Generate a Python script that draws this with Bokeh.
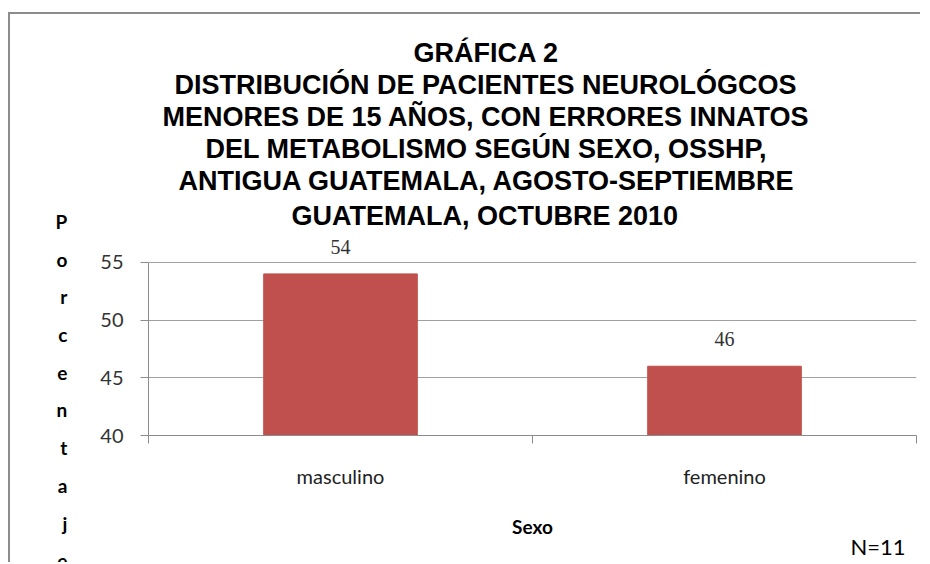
from bokeh.plotting import figure
from bokeh.models import (FactorRange, Range1d, LinearAxis, CategoricalAxis, CustomJSTickFormatter,
                          FixedTicker, LabelSet, ColumnDataSource, Title)
from bokeh.embed import file_html
from bokeh.resources import INLINE

# ---- data ----
categories = ["masculino", "femenino"]
percent = [54, 46]
y_ticks = [40, 45, 50, 55]
title_lines = [
    "GRÁFICA 2",
    "DISTRIBUCIÓN DE PACIENTES NEUROLÓGCOS",
    "MENORES DE 15 AÑOS, CON ERRORES INNATOS",
    "DEL METABOLISMO SEGÚN SEXO, OSSHP,",
    "ANTIGUA GUATEMALA, AGOSTO-SEPTIEMBRE",
    "GUATEMALA, OCTUBRE 2010",
]
# left offsets (px from the frame's left edge) that centre each title line at the chart box centre
title_offsets = [265, 26, 14, 57, 30, 143]
y_title = "Porcentaje"
x_title = "Sexo"
note = "N=11"

BAR = "#C0504D"
FONT = "Lato"
GRAY = "#8c8c8c"

src = ColumnDataSource(dict(cat=categories, val=percent, lbl=[str(v) for v in percent]))

p = figure(width=912, height=550, x_range=FactorRange(*categories), y_range=Range1d(40, 57.5),
           output_backend="svg", toolbar_location=None, x_axis_location=None,
           y_axis_location=None,
           min_border_left=138, min_border_right=6, min_border_top=219, min_border_bottom=129)
p.styles = {"border-top": "2px solid " + GRAY, "border-left": "2px solid " + GRAY}
p.margin = (12, 0, 0, 8)
p.outline_line_color = None
p.xgrid.grid_line_color = None
p.ygrid.grid_line_color = "#a0a0a0"
p.ygrid.ticker = FixedTicker(ticks=y_ticks)

p.vbar(x="cat", top="val", bottom=40, width=0.4, source=src, fill_color=BAR, line_color=BAR)

# y axis
ya = LinearAxis(ticker=FixedTicker(ticks=y_ticks), bounds=(y_ticks[0], y_ticks[-1]))
ya.axis_line_color = GRAY
ya.major_tick_line_color = GRAY
ya.major_tick_out = 8
ya.major_tick_in = 0
ya.minor_tick_line_color = None
ya.major_label_standoff = 17
ya.major_label_text_font = FONT
ya.major_label_text_font_size = "20px"
ya.major_label_text_color = "#333333"
ya.axis_label = "\n\n\n" + "\n".join(y_title)
ya.axis_label_orientation = "horizontal"
ya.axis_label_text_font = FONT
ya.axis_label_text_font_style = "bold"
ya.axis_label_text_font_size = "19px"
ya.axis_label_text_line_height = 1.64
ya.axis_label_text_color = "#000000"
ya.axis_label_standoff = 30
p.add_layout(ya, "left")

# boundary ticks on x (between categories)
xb = LinearAxis(ticker=FixedTicker(ticks=list(range(len(categories) + 1))),
                formatter=CustomJSTickFormatter(code="return ''"))
xb.axis_line_color = GRAY
xb.major_tick_line_color = GRAY
xb.major_tick_out = 8
xb.major_tick_in = 0
xb.minor_tick_line_color = None
xb.major_label_standoff = 0
p.add_layout(xb, "below")

xc = CategoricalAxis()
xc.axis_line_color = None
xc.major_tick_line_color = None
xc.major_label_standoff = 14
xc.major_label_text_font = FONT
xc.major_label_text_font_size = "20px"
xc.major_label_text_color = "#222222"
xc.axis_label = x_title
xc.axis_label_text_font = FONT
xc.axis_label_text_font_style = "bold"
xc.axis_label_text_font_size = "19px"
xc.axis_label_text_color = "#000000"
xc.axis_label_standoff = 24
p.add_layout(xc, "below")

p.add_layout(Title(text=note, align="right", offset=11, standoff=-38,
                   text_font=FONT, text_font_style="normal", text_font_size="22px",
                   text_color="#000000"), "below")

# value labels
p.add_layout(LabelSet(x="cat", y="val", text="lbl", source=src, y_offset=20,
                      text_align="center", text_baseline="bottom",
                      text_font=FONT, text_font_size="20px", text_color="#333333"))

# title block: one Title per line, added from the bottom line upwards
for i, (line, off) in enumerate(zip(reversed(title_lines), reversed(title_offsets))):
    p.add_layout(Title(text=line, align="left", offset=off, standoff=6 if i == 0 else 0,
                       text_font="Liberation Sans", text_font_style="bold",
                       text_font_size="27px", text_line_height=1.113,
                       text_color="#000000"), "above")

open("out.html", "w").write(file_html(p, INLINE))
